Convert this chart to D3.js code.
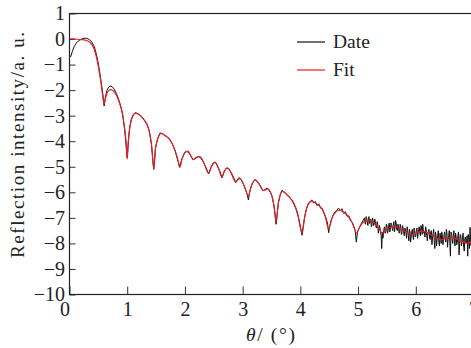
<!DOCTYPE html>
<html>
<head>
<meta charset="utf-8">
<script src="https://cdn.jsdelivr.net/npm/d3@7"></script>
<style>
  html, body { margin: 0; padding: 0; background: #fff; }
  svg { display: block; font-family: "Liberation Serif", "Times New Roman", serif; }
</style>
</head>
<body>
<svg id="chart" width="471" height="348"></svg>
<script>
// tick values and labels
const xTicks = [0, 1, 2, 3, 4, 5, 6, 7];
const yTicks = [1, 0, -1, -2, -3, -4, -5, -6, -7, -8, -9, -10];
const legendLabels = ["Date", "Fit"];
const xTitle = ["\u03b8", "/ (\u00b0)"];
const yTitle = "Reflection  intensity/a. u.";

// fitted curve, [theta, intensity]
const fitSeries = [
  [0.02, 0.02], [0.1, 0.0], [0.2, -0.02], [0.28, -0.05], [0.35, -0.12], [0.42, -0.35],
  [0.47, -0.75], [0.52, -1.35], [0.55, -1.8], [0.58, -2.3], [0.6, -2.55], [0.62, -2.35],
  [0.65, -2.12], [0.68, -2.02], [0.72, -1.98], [0.78, -2.08], [0.85, -2.4], [0.92, -2.95],
  [0.95, -3.4], [0.98, -4.0], [1.0, -4.7], [1.02, -4.0], [1.05, -3.4], [1.09, -3.05],
  [1.15, -2.9], [1.22, -2.98], [1.3, -3.18], [1.37, -3.5], [1.42, -4.1], [1.46, -5.1],
  [1.49, -4.3], [1.53, -3.9], [1.59, -3.69], [1.66, -3.78], [1.74, -3.94], [1.83, -4.36],
  [1.88, -4.75], [1.91, -5.03], [1.95, -4.7], [2.0, -4.45], [2.05, -4.39], [2.1, -4.55],
  [2.14, -4.72], [2.2, -4.62], [2.26, -4.6], [2.32, -4.8], [2.41, -5.25], [2.46, -5.0],
  [2.52, -4.82], [2.58, -5.05], [2.64, -5.41], [2.69, -5.15], [2.74, -5.04], [2.8, -5.25],
  [2.88, -5.6], [2.92, -5.5], [2.96, -5.47], [3.02, -5.7], [3.1, -6.13], [3.15, -5.75],
  [3.22, -5.51], [3.29, -5.7], [3.36, -5.93], [3.44, -5.86], [3.5, -6.1], [3.55, -6.6],
  [3.58, -7.17], [3.62, -6.4], [3.69, -5.96], [3.75, -6.05], [3.81, -6.19], [3.88, -6.39],
  [3.95, -6.8], [4.03, -7.6], [4.08, -6.9], [4.13, -6.5], [4.2, -6.35], [4.28, -6.45],
  [4.35, -6.58], [4.42, -6.85], [4.49, -7.43], [4.55, -7.0], [4.6, -6.8], [4.68, -6.7],
  [4.76, -6.8], [4.84, -6.97], [4.91, -7.25], [4.97, -7.6], [5.03, -7.35], [5.1, -7.15],
  [5.16, -7.1], [5.27, -7.17], [5.35, -7.38], [5.42, -7.6], [5.5, -7.45], [5.58, -7.36],
  [5.65, -7.34], [5.75, -7.45], [5.86, -7.6], [5.94, -7.65], [6.02, -7.58], [6.12, -7.52],
  [6.25, -7.65], [6.35, -7.78], [6.43, -7.86], [6.52, -7.8], [6.61, -7.76], [6.72, -7.85],
  [6.82, -7.93], [6.9, -7.99], [6.97, -7.93], [7.0, -7.95]
];

// measured data, [theta, intensity]
const dataMain = [
  [0.02, -0.7], [0.05, -0.48], [0.08, -0.3], [0.12, -0.15], [0.16, -0.06], [0.2, -0.01],
  [0.25, 0.03], [0.3, 0.03], [0.35, -0.03], [0.39, -0.13], [0.43, -0.3], [0.46, -0.55],
  [0.49, -0.85], [0.52, -1.25], [0.55, -1.7], [0.58, -2.2], [0.6, -2.62], [0.62, -2.3],
  [0.65, -2.0], [0.68, -1.88], [0.71, -1.84], [0.74, -1.87], [0.77, -1.95], [0.81, -2.12],
  [0.85, -2.35], [0.89, -2.65], [0.92, -2.95], [0.95, -3.45], [0.97, -3.9], [1.0, -4.65],
  [1.02, -4.0], [1.04, -3.5], [1.07, -3.15], [1.1, -2.97], [1.14, -2.88], [1.18, -2.92],
  [1.22, -2.98], [1.26, -3.08], [1.3, -3.2], [1.34, -3.33], [1.38, -3.58], [1.42, -4.12],
  [1.46, -5.1], [1.49, -4.25], [1.53, -3.88], [1.57, -3.68], [1.61, -3.7], [1.65, -3.78],
  [1.69, -3.82], [1.74, -3.95], [1.78, -4.1], [1.83, -4.38], [1.87, -4.7], [1.91, -5.0],
  [1.95, -4.68], [2.0, -4.43], [2.04, -4.4], [2.08, -4.5], [2.12, -4.65], [2.15, -4.72],
  [2.19, -4.66], [2.23, -4.6], [2.27, -4.64], [2.31, -4.78], [2.36, -5.0], [2.41, -5.28],
  [2.45, -5.02], [2.49, -4.85], [2.53, -4.83], [2.57, -5.0], [2.61, -5.2], [2.64, -5.43],
  [2.68, -5.18], [2.72, -5.05], [2.76, -5.08], [2.8, -5.22], [2.84, -5.4], [2.88, -5.62],
  [2.91, -5.5], [2.94, -5.42], [2.97, -5.5], [3.0, -5.62], [3.03, -5.78], [3.06, -5.95],
  [3.08, -6.1], [3.1, -6.3], [3.12, -6.0], [3.15, -5.75], [3.18, -5.6], [3.21, -5.5],
  [3.24, -5.55], [3.27, -5.62], [3.3, -5.72], [3.33, -5.85], [3.36, -5.95], [3.39, -5.88],
  [3.42, -5.84], [3.45, -5.9], [3.48, -6.0], [3.51, -6.15], [3.54, -6.5], [3.56, -6.85],
  [3.58, -7.25], [3.6, -6.8], [3.62, -6.4], [3.65, -6.12], [3.68, -5.92], [3.71, -5.98],
  [3.74, -6.02], [3.77, -6.12], [3.8, -6.15], [3.83, -6.25], [3.86, -6.33], [3.89, -6.48],
  [3.92, -6.62], [3.95, -6.85], [3.98, -7.1], [4.01, -7.45], [4.03, -7.68], [4.05, -7.3],
  [4.08, -6.9], [4.11, -6.62], [4.14, -6.42], [4.17, -6.36], [4.2, -6.3], [4.23, -6.42],
  [4.26, -6.36], [4.29, -6.52], [4.32, -6.45], [4.35, -6.62], [4.38, -6.63], [4.41, -6.84],
  [4.44, -6.98], [4.47, -7.2], [4.49, -7.58], [4.51, -7.3], [4.54, -7.05], [4.57, -6.88],
  [4.6, -6.76], [4.63, -6.72], [4.66, -6.62], [4.69, -6.72], [4.72, -6.64], [4.75, -6.82],
  [4.78, -6.76], [4.81, -6.94], [4.84, -6.92], [4.87, -7.12], [4.9, -7.18], [4.93, -7.36],
  [4.95, -7.5], [4.97, -7.95], [4.99, -7.55], [5.02, -7.4], [5.05, -7.25], [5.08, -7.12],
  [5.1, -7.05], [5.12, -7.2], [5.14, -6.95], [5.16, -7.15], [5.18, -7.0], [5.2, -7.22],
  [5.22, -7.05], [5.24, -7.3], [5.26, -7.1], [5.28, -7.25], [5.3, -7.15], [5.32, -7.4],
  [5.34, -7.25], [5.36, -7.5], [5.38, -7.4], [5.4, -7.7], [5.41, -8.2], [5.42, -7.55],
  [5.44, -7.65], [5.46, -7.35], [5.48, -7.55], [5.5, -7.3], [5.52, -7.5], [5.54, -7.2],
  [5.56, -7.45], [5.58, -7.25], [5.6, -7.5], [5.62, -7.15], [5.64, -7.4], [5.66, -7.2],
  [5.68, -7.5], [5.7, -7.3], [5.72, -7.55], [5.74, -7.35], [5.76, -7.6], [5.78, -7.4],
  [5.8, -7.7], [5.82, -7.45], [5.84, -7.8], [5.86, -7.5], [5.88, -7.9], [5.9, -7.55],
  [5.92, -7.75], [5.94, -7.45], [5.96, -7.85], [5.98, -7.5], [6.0, -7.7], [6.02, -7.4],
  [6.04, -7.65], [6.06, -7.35], [6.08, -7.7], [6.1, -7.4], [6.12, -7.25], [6.14, -7.6],
  [6.16, -7.75], [6.18, -7.45], [6.2, -7.9], [6.22, -7.5], [6.24, -7.8], [6.26, -7.55],
  [6.28, -8.05], [6.3, -7.6], [6.32, -7.9], [6.34, -7.55], [6.36, -8.1], [6.38, -7.7],
  [6.4, -7.95], [6.42, -7.6], [6.44, -8.0], [6.46, -7.7], [6.48, -7.9], [6.5, -7.55],
  [6.52, -7.95], [6.54, -7.6], [6.56, -7.85], [6.58, -7.5], [6.6, -8.5], [6.62, -7.6],
  [6.64, -8.0], [6.65, -7.7], [6.67, -7.9], [6.69, -7.6], [6.71, -8.05], [6.73, -7.7],
  [6.75, -8.45], [6.77, -7.65], [6.79, -8.1], [6.81, -7.75], [6.83, -8.15], [6.85, -7.8],
  [6.87, -8.0], [6.89, -7.7], [6.9, -8.5], [6.92, -7.8], [6.94, -7.37], [6.96, -8.1],
  [6.98, -7.85], [7.0, -7.9]
];

// extra readings in the noisy tail, between the ones above
const dataTail = [
  [5.11, -7.0], [5.13, -7.25], [5.15, -7.05], [5.17, -7.3], [5.19, -6.95], [5.21, -7.15],
  [5.23, -7.35], [5.25, -7.0], [5.27, -7.3], [5.29, -7.05], [5.31, -7.35], [5.33, -7.15],
  [5.35, -7.6], [5.37, -7.3], [5.39, -7.55], [5.43, -7.8], [5.45, -7.4], [5.47, -7.6],
  [5.49, -7.25], [5.51, -7.6], [5.53, -7.3], [5.55, -7.55], [5.57, -7.2], [5.59, -7.4],
  [5.61, -7.3], [5.63, -7.55], [5.65, -7.1], [5.67, -7.45], [5.69, -7.25], [5.71, -7.6],
  [5.73, -7.25], [5.75, -7.65], [5.77, -7.3], [5.79, -7.55], [5.81, -7.4], [5.83, -7.6],
  [5.85, -7.35], [5.87, -7.7], [5.89, -7.45], [5.91, -7.95], [5.93, -7.55], [5.95, -7.7],
  [5.97, -7.4], [5.99, -7.75], [6.01, -7.5], [6.03, -7.8], [6.05, -7.45], [6.07, -7.6],
  [6.09, -7.3], [6.11, -7.65], [6.13, -7.45], [6.15, -7.55], [6.17, -7.35], [6.19, -7.7],
  [6.21, -7.6], [6.23, -7.45], [6.25, -7.85], [6.27, -7.5], [6.29, -7.75], [6.31, -7.45],
  [6.33, -8.2], [6.35, -7.65], [6.37, -7.85], [6.39, -7.5], [6.41, -8.1], [6.43, -7.75],
  [6.45, -7.55], [6.47, -8.05], [6.49, -7.65], [6.51, -7.85], [6.53, -7.45], [6.55, -8.15],
  [6.57, -7.7], [6.59, -7.95], [6.61, -7.55], [6.63, -7.85], [6.66, -7.5], [6.68, -8.1],
  [6.7, -7.75], [6.72, -7.95], [6.74, -7.55], [6.76, -8.0], [6.78, -7.7], [6.8, -7.95],
  [6.82, -7.6], [6.84, -8.3], [6.86, -7.75], [6.88, -7.95], [6.91, -7.65], [6.93, -8.2],
  [6.95, -7.9], [6.97, -7.6], [6.99, -8.25]
];

const colors = ["#111", "#ed1c24"];

var dataSeries = dataMain.concat(dataTail).sort(function(a, b) { return a[0] - b[0]; });

var svg = d3.select("#chart");
// plot box edges (not named top/left: those clash with window globals)
var x0 = 69.5, x1 = 473.5, y0 = 13.5, y1 = 294.5;

var x = d3.scaleLinear().domain([0, 7]).range([x0, x1]);
var y = d3.scaleLinear().domain([-10, 1]).range([y1, y0]);

svg.append("defs").append("clipPath").attr("id", "plot")
  .append("rect")
  .attr("x", x0).attr("y", y0)
  .attr("width", x1 - x0).attr("height", y1 - y0);

// axes, ticks point inward
var xAxis = svg.append("g")
  .attr("transform", "translate(0," + y1 + ")")
  .call(d3.axisBottom(x).tickValues(xTicks).tickFormat(d3.format("d"))
    .tickSizeInner(-8).tickSizeOuter(0).tickPadding(7));

var yAxis = svg.append("g")
  .attr("transform", "translate(" + x0 + ",0)")
  .call(d3.axisLeft(y).tickValues(yTicks).tickFormat(d3.format("d"))
    .tickSizeInner(-6).tickSizeOuter(0).tickPadding(4.5));

[xAxis, yAxis].forEach(function(g) {
  g.select(".domain").remove();
  g.selectAll("text").attr("font-size", "20px").attr("fill", "#222")
    .style("font-family", "Liberation Serif");
  g.selectAll("line").attr("stroke", "#333");
});
// the 0 is nudged left so it clears the -10
xAxis.selectAll(".tick text").filter(function(d) { return d === 0; }).attr("x", -5);

var line = d3.line()
  .x(function(d) { return x(d[0]); })
  .y(function(d) { return y(d[1]); });

var plot = svg.append("g").attr("clip-path", "url(#plot)");

plot.append("path")
  .attr("d", line(dataSeries))
  .attr("fill", "none")
  .attr("stroke", colors[0])
  .attr("stroke-width", 1)
  .attr("stroke-linejoin", "round");

plot.append("path")
  .attr("d", line.curve(d3.curveMonotoneX)(fitSeries))
  .attr("fill", "none")
  .attr("stroke", colors[1])
  .attr("stroke-width", 1.15);

// frame
svg.append("rect")
  .attr("x", x0).attr("y", y0)
  .attr("width", x1 - x0).attr("height", y1 - y0)
  .attr("fill", "none")
  .attr("stroke", "#222")
  .attr("stroke-width", 1.2);

// legend
var legend = svg.append("g").attr("transform", "translate(297,42)");
legendLabels.forEach(function(label, i) {
  legend.append("line")
    .attr("x1", 0).attr("x2", 28)
    .attr("y1", i * 28).attr("y2", i * 28)
    .attr("stroke", colors[i])
    .attr("stroke-width", 1.2);
  legend.append("text")
    .attr("x", 36).attr("y", i * 28 + 6)
    .attr("font-size", "19.5px")
    .attr("fill", "#222")
    .text(label);
});

// axis titles
var xt = svg.append("text")
  .attr("x", 270.5).attr("y", 341)
  .attr("text-anchor", "middle")
  .attr("font-size", "19.5px")
  .attr("fill", "#222")
  .attr("textLength", 49)
  .attr("lengthAdjust", "spacing");
xt.append("tspan").attr("font-style", "italic").text(xTitle[0]);
xt.append("tspan").text(xTitle[1]);

svg.append("text")
  .attr("transform", "translate(24,145) rotate(-90)")
  .attr("text-anchor", "middle")
  .attr("font-size", "19px")
  .attr("fill", "#222")
  .attr("textLength", 226)
  .attr("lengthAdjust", "spacing")
  .text(yTitle);
</script>
</body>
</html>
